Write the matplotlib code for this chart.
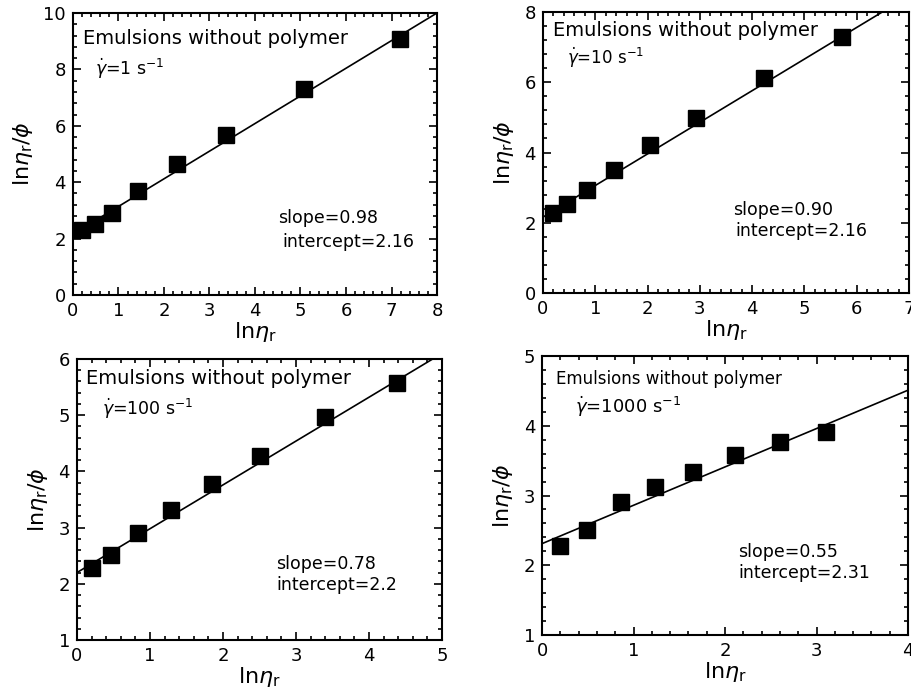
import numpy as np
import matplotlib.pyplot as plt
from matplotlib.ticker import MultipleLocator

plt.rcParams['font.family'] = ['DejaVu Sans']
plt.rcParams['mathtext.fontset'] = 'dejavusans'

# ln(eta_r) vs ln(eta_r)/phi at four shear rates
x_1 = [0.20, 0.49, 0.86, 1.44, 2.29, 3.37, 5.07, 7.18]
y_1 = [2.30, 2.52, 2.92, 3.70, 4.64, 5.68, 7.30, 9.08]

x_10 = [0.19, 0.46, 0.84, 1.35, 2.05, 2.93, 4.22, 5.72]
y_10 = [2.29, 2.54, 2.92, 3.50, 4.21, 4.97, 6.11, 7.29]

x_100 = [0.21, 0.47, 0.84, 1.29, 1.85, 2.51, 3.40, 4.39]
y_100 = [2.28, 2.52, 2.90, 3.31, 3.78, 4.27, 4.96, 5.57]

x_1000 = [0.20, 0.49, 0.86, 1.23, 1.65, 2.11, 2.60, 3.10]
y_1000 = [2.28, 2.51, 2.90, 3.12, 3.33, 3.58, 3.77, 3.91]

rates = ['1', '10', '100', '1000']
slopes = [0.98, 0.90, 0.78, 0.55]
intercepts = [2.16, 2.16, 2.2, 2.31]
slope_labels = ['0.98', '0.90', '0.78', '0.55']
intercept_labels = ['2.16', '2.16', '2.2', '2.31']

xlims = [(0, 8), (0, 7), (0, 5), (0, 4)]
ylims = [(0, 10), (0, 8), (1, 6), (1, 5)]
ymajor = [2, 2, 1, 1]

fig = plt.figure(figsize=(9.11, 6.94), dpi=100)
rects = [
    [0.0801, 0.5749, 0.3996, 0.4064],
    [0.5960, 0.5778, 0.4018, 0.4049],
    [0.0845, 0.0778, 0.4007, 0.4049],
    [0.5950, 0.0850, 0.4017, 0.4020],
]
# text anchors in axes fraction: title, shear rate, slope, intercept
title_pos = [(0.027, 0.91), (0.027, 0.935), (0.025, 0.929), (0.039, 0.918)]
rate_pos = [(0.06, 0.80), (0.066, 0.835), (0.068, 0.822), (0.089, 0.818)]
slope_pos = [(0.563, 0.273), (0.52, 0.296), (0.546, 0.27), (0.536, 0.299)]
icpt_pos = [(0.574, 0.188), (0.526, 0.221), (0.546, 0.197), (0.536, 0.221)]
title_size = [14, 14, 14, 12]
rate_size = [12.5, 12, 12.5, 13]

xs = [x_1, x_10, x_100, x_1000]
ys = [y_1, y_10, y_100, y_1000]

for i in range(4):
    ax = fig.add_axes(rects[i])
    ax.plot(xs[i], ys[i], 's', color='black', markersize=11)

    m, b = slopes[i], intercepts[i]
    x_end = min(xlims[i][1], (ylims[i][1] - b) / m)
    xl = np.array([0, x_end])
    ax.plot(xl, m * xl + b, color='black', linewidth=1.2)

    ax.set_xlim(*xlims[i])
    ax.set_ylim(*ylims[i])
    ax.xaxis.set_major_locator(MultipleLocator(1))
    ax.xaxis.set_minor_locator(MultipleLocator(0.2))
    ax.yaxis.set_major_locator(MultipleLocator(ymajor[i]))
    ax.yaxis.set_minor_locator(MultipleLocator(ymajor[i] / 5))
    ax.tick_params(which='both', direction='in', top=True, right=True,
                   labelsize=13, width=1.2)
    ax.tick_params(which='major', length=6, pad=5)
    ax.tick_params(which='minor', length=3)
    for s in ax.spines.values():
        s.set_linewidth(1.5)

    ax.set_xlabel(r'ln$\eta_\mathrm{r}$', fontsize=16, labelpad=0)
    ax.set_ylabel(r'ln$\eta_\mathrm{r}$/$\phi$', fontsize=16, labelpad=6)

    ax.text(*title_pos[i], 'Emulsions without polymer', transform=ax.transAxes,
            fontsize=title_size[i], va='center', ha='left')
    ax.text(*rate_pos[i], r'$\dot{\gamma}$=' + rates[i] + r' s$^{-1}$',
            transform=ax.transAxes, fontsize=rate_size[i], va='center', ha='left')
    ax.text(*slope_pos[i], 'slope=' + slope_labels[i], transform=ax.transAxes,
            fontsize=12.5, va='center', ha='left')
    ax.text(*icpt_pos[i], 'intercept=' + intercept_labels[i], transform=ax.transAxes,
            fontsize=12.5, va='center', ha='left')

fig.savefig('out.png', dpi=100)
